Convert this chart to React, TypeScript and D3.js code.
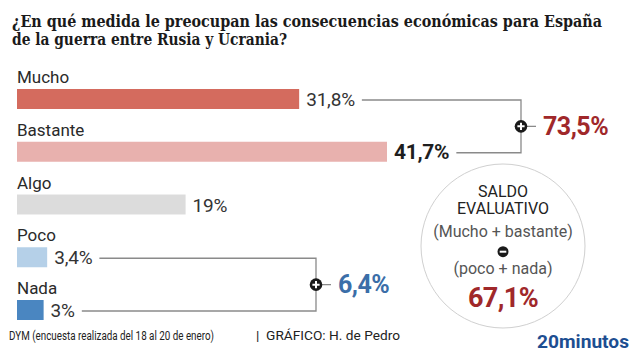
import React, { useEffect, useRef } from "react";
import * as d3 from "d3";

const categories = ["Mucho", "Bastante", "Algo", "Poco", "Nada"];
const values = [31.8, 41.7, 19, 3.4, 3];
const valueLabels = ["31,8%", "41,7%", "19%", "3,4%", "3%"];
const barColors = ["#d46b5e", "#e8b1ae", "#dcdcdc", "#b5d0e8", "#4a86c1"];
const boldValues = [false, true, false, false, false];
const titleLines = [
  "¿En qué medida le preocupan las consecuencias económicas para España",
  "de la guerra entre Rusia y Ucrania?",
];
const upperGroup = { members: ["Mucho", "Bastante"], total: "73,5%" };
const lowerGroup = { members: ["Poco", "Nada"], total: "6,4%" };
const balanceLines = ["SALDO", "EVALUATIVO", "(Mucho + bastante)", "(poco + nada)"];
const balanceValue = "67,1%";
const sourceText = "DYM (encuesta realizada del 18 al 20 de enero)";
const creditText = "|\u00a0\u00a0GRÁFICO: H. de Pedro";
const brandText = "20minutos";

const SANS = "Roboto, 'Noto Sans', sans-serif";

export default function App() {
  const ref = useRef<SVGSVGElement | null>(null);

  useEffect(() => {
    const svg = d3.select(ref.current);
    svg.selectAll("*").remove();

    // Title
    const titleW = [590, 275];
    titleLines.forEach((t, i) => {
      svg
        .append("text")
        .attr("x", 12)
        .attr("y", 27 + i * 18)
        .attr("font-family", "'DejaVu Serif Condensed', 'DejaVu Serif', serif")
        .attr("font-stretch", "condensed")
        .attr("font-weight", 700)
        .attr("font-size", 16.5)
        .attr("fill", "#1a1a1a")
        .attr("textLength", titleW[i])
        .attr("lengthAdjust", "spacingAndGlyphs")
        .text(t);
    });

    const x = d3.scaleLinear().domain([0, 41.7]).range([17, 387]);
    const y = d3
      .scaleBand<string>()
      .domain(categories)
      .range([89, 320])
      .paddingInner(0.621)
      .paddingOuter(0);

    const lineEnds: Record<string, { x: number; y: number }> = {};

    categories.forEach((c, i) => {
      const top = y(c)!;
      svg
        .append("text")
        .attr("x", 17)
        .attr("y", top - 6)
        .attr("font-family", SANS)
        .attr("font-size", 17)
        .attr("fill", "#2a2a2a")
        .text(c);
      svg
        .append("rect")
        .attr("x", x(0))
        .attr("y", top)
        .attr("width", x(values[i]) - x(0))
        .attr("height", y.bandwidth())
        .attr("fill", barColors[i]);
      const vt = svg
        .append("text")
        .attr("x", x(values[i]) + 7)
        .attr("y", top + 17)
        .attr("font-family", SANS)
        .attr("font-size", boldValues[i] ? 21 : 19)
        .attr("font-weight", boldValues[i] ? 700 : 400)
        .attr("letter-spacing", boldValues[i] ? -0.3 : -0.2)
        .attr("fill", boldValues[i] ? "#1e1e1e" : "#333")
        .text(valueLabels[i]);
      const w = (vt.node() as SVGTextElement).getComputedTextLength();
      lineEnds[c] = { x: x(values[i]) + 7 + w + 7, y: top + y.bandwidth() / 2 + 1 };
    });

    const drawBracket = (
      group: { members: string[]; total: string },
      bx: number,
      color: string,
      size: number
    ) => {
      const a = lineEnds[group.members[0]];
      const b = lineEnds[group.members[1]];
      const path = d3.path();
      path.moveTo(a.x, a.y);
      path.lineTo(bx, a.y);
      path.lineTo(bx, b.y);
      path.lineTo(b.x, b.y);
      svg
        .append("path")
        .attr("d", path.toString())
        .attr("fill", "none")
        .attr("stroke", "#8a8a8a")
        .attr("stroke-width", 1.3);
      const cy = (a.y + b.y) / 2;
      svg
        .append("line")
        .attr("x1", bx)
        .attr("x2", bx + 15)
        .attr("y1", cy)
        .attr("y2", cy)
        .attr("stroke", "#8a8a8a")
        .attr("stroke-width", 1.3);
      svg.append("circle").attr("cx", bx).attr("cy", cy).attr("r", 6.3).attr("fill", "#1a1a1a");
      svg
        .append("path")
        .attr("d", `M${bx - 3.6},${cy}H${bx + 3.6}M${bx},${cy - 3.6}V${cy + 3.6}`)
        .attr("stroke", "#fff")
        .attr("stroke-width", 2);
      svg
        .append("text")
        .attr("x", bx + 22)
        .attr("y", cy + 8.5)
        .attr("font-family", SANS)
        .attr("font-weight", 700)
        .attr("font-size", size)
        .attr("letter-spacing", -0.5)
        .attr("fill", color)
        .text(group.total);
    };

    drawBracket(upperGroup, 521, "#a0282a", 25);
    drawBracket(lowerGroup, 316, "#3b6ea8", 25);

    // Balance circle
    const cx = 503;
    const ccy = 246;
    svg
      .append("circle")
      .attr("cx", cx)
      .attr("cy", ccy)
      .attr("r", 82)
      .attr("fill", "none")
      .attr("stroke", "#d0d0d0")
      .attr("stroke-width", 1);
    const bl = [
      { t: balanceLines[0], y: 196.7, c: "#222" },
      { t: balanceLines[1], y: 214, c: "#222" },
      { t: balanceLines[2], y: 236.7, c: "#555" },
      { t: balanceLines[3], y: 274, c: "#555" },
    ];
    bl.forEach((d) => {
      svg
        .append("text")
        .attr("x", cx)
        .attr("y", d.y)
        .attr("text-anchor", "middle")
        .attr("font-family", SANS)
        .attr("font-size", 16)
        .attr("fill", d.c)
        .text(d.t);
    });
    svg.append("circle").attr("cx", cx).attr("cy", 251.7).attr("r", 5.5).attr("fill", "#1a1a1a");
    svg
      .append("line")
      .attr("x1", cx - 3.3)
      .attr("x2", cx + 3.3)
      .attr("y1", 251.7)
      .attr("y2", 251.7)
      .attr("stroke", "#fff")
      .attr("stroke-width", 2);
    svg
      .append("text")
      .attr("x", cx)
      .attr("y", 306.7)
      .attr("text-anchor", "middle")
      .attr("font-family", SANS)
      .attr("font-weight", 700)
      .attr("font-size", 27)
      .attr("letter-spacing", -0.6)
      .attr("fill", "#a0282a")
      .text(balanceValue);

    // Footer
    svg
      .append("text")
      .attr("x", 9)
      .attr("y", 340)
      .attr("font-family", SANS)
      .attr("font-size", 12)
      .attr("fill", "#222")
      .attr("textLength", 205)
      .attr("lengthAdjust", "spacingAndGlyphs")
      .text(sourceText);
    svg
      .append("text")
      .attr("x", 256)
      .attr("y", 340)
      .attr("font-family", SANS)
      .attr("font-size", 12)
      .attr("fill", "#222")
      .attr("textLength", 144)
      .attr("lengthAdjust", "spacingAndGlyphs")
      .text(creditText);
    svg
      .append("text")
      .attr("x", 537)
      .attr("y", 348)
      .attr("font-family", SANS)
      .attr("font-weight", 700)
      .attr("font-size", 19)
      .attr("fill", "#1d4e91")
      .attr("textLength", 92)
      .attr("lengthAdjust", "spacingAndGlyphs")
      .text(brandText);
  }, []);

  return (
    <svg
      ref={ref}
      width={640}
      height={360}
      style={{ position: "absolute", left: 0, top: 0, background: "#fff" }}
    />
  );
}
